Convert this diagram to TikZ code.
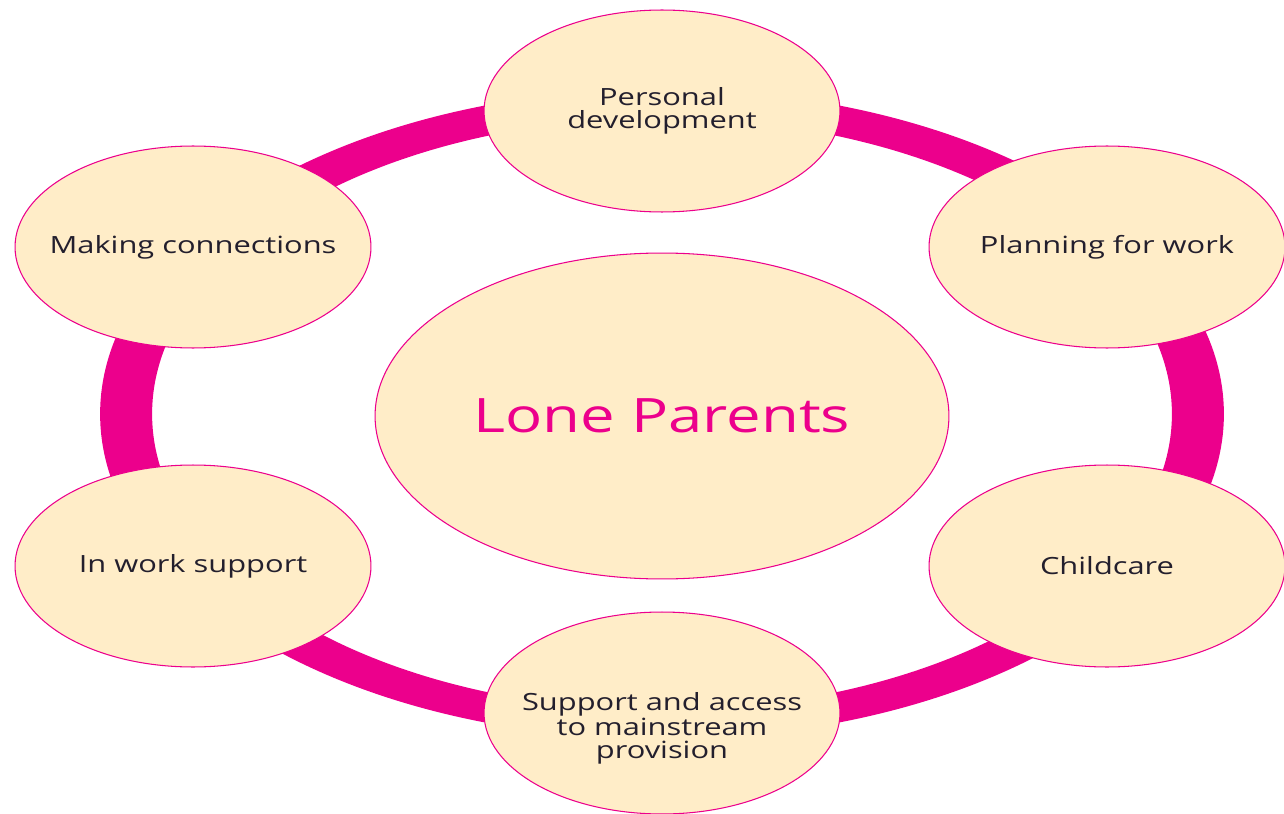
\documentclass[tikz,border=0pt]{standalone}
\usepackage{fontspec}
\setmainfont{Open Sans}[FakeStretch=1.3]
\usetikzlibrary{shapes}
\definecolor{ringpink}{RGB}{236,0,140}
\definecolor{peach}{RGB}{255,237,200}
\definecolor{inkblue}{RGB}{35,31,45}
\tikzstyle{bubble}=[ellipse,draw=ringpink,line width=0.6pt,fill=peach,inner xsep=-3cm,inner ysep=-1.5cm]
\tikzstyle{small}=[bubble,minimum width=7.12cm,minimum height=4.04cm,align=center,text=inkblue,font=\fontsize{13.5}{13}\selectfont]
\tikzstyle{big}=[bubble,minimum width=11.48cm,minimum height=6.52cm,text=ringpink,font=\fontsize{27}{30}\selectfont]

\begin{document}
\begin{tikzpicture}[x=0.02cm,y=-0.02cm]
		\useasboundingbox (0,0) rectangle (1284,814);
		% ring behind the bubbles
		\fill[ringpink,even odd rule] (662,414) ellipse [x radius=11.24cm,y radius=6.5cm]
			(662,414) ellipse [x radius=10.2cm,y radius=5.92cm];

		\node[big] (lone) at (662,416) {Lone Parents};

		\foreach \n / \x / \y / \t in {pd/662/111/{Personal\\development},pw/1107/247/{Planning for work},cc/1107/566/{Childcare},sa/662/713/{\rule{0pt}{28pt}Support and access\\to mainstream\\provision},iw/193/566/{In work support},mc/193/247/{Making connections}} {
			\node[small] (\n) at (\x,\y) {\t};
		}
	\end{tikzpicture}
\end{document}
